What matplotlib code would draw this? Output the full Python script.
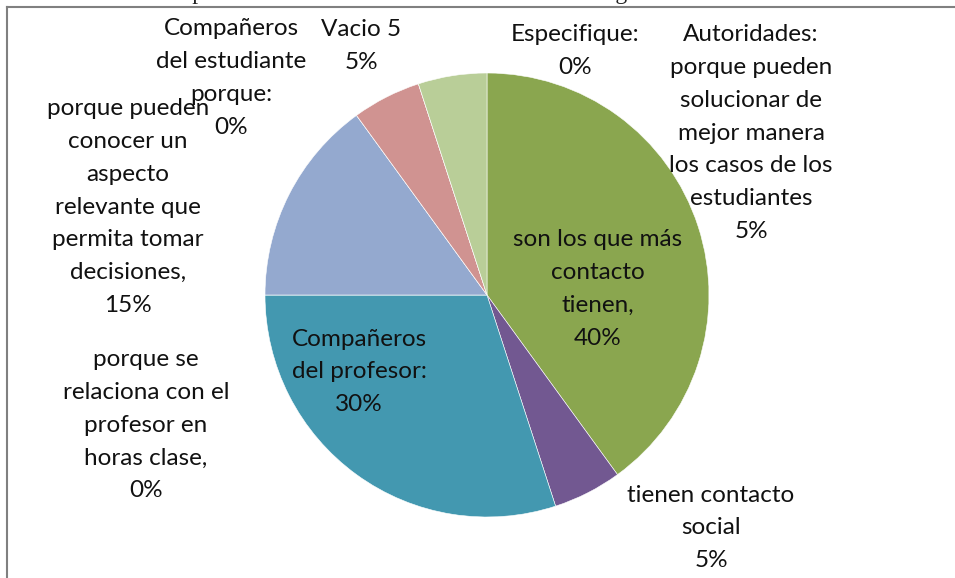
import matplotlib
matplotlib.use("Agg")
import matplotlib.pyplot as plt
from matplotlib.lines import Line2D

plt.rcParams['font.family'] = ['Lato', 'DejaVu Sans']

# Slice order, clockwise from 12 o'clock
categories = [
    "son los que más\ncontacto\ntienen,",
    "tienen contacto\nsocial",
    "Compañeros\ndel profesor:",
    "porque se\nrelaciona con el\nprofesor en\nhoras clase,",
    "porque pueden\nconocer un\naspecto\nrelevante que\npermita tomar\ndecisiones,",
    "Compañeros\ndel estudiante\nporque:",
    "Vacio 5",
    "Especifique:",
    "Autoridades:\nporque pueden\nsolucionar de\nmejor manera\nlos casos de los\nestudiantes",
]
percent = [40, 5, 30, 0, 15, 0, 5, 0, 5]
colors = ['#8AA64F', '#725891', '#4398B0', '#4F81BD', '#94A9CF',
          '#C0504D', '#D09391', '#F79646', '#B9CE98']

# label anchor (pixel x, pixel y from top)
label_xy = [(598, 289), (711, 528), (359, 372), (146, 425), (128, 207),
            (231, 78), (361, 46), (575, 51), (751, 133)]

W, H = 955, 578
fig = plt.figure(figsize=(W / 100, H / 100), dpi=100)
ax = fig.add_axes([0, 0, 1, 1])

ax.pie(percent, colors=colors, startangle=90, counterclock=False,
       center=(487, H - 295), radius=222,
       wedgeprops=dict(edgecolor='white', linewidth=0.4))
ax.set_xlim(0, W)
ax.set_ylim(0, H)
ax.set_aspect('auto')
ax.axis('off')

for name, p, (x, y) in zip(categories, percent, label_xy):
    ax.text(x, H - y, f"{name}\n{p}%", ha='center', va='center',
            fontsize=17.5, linespacing=1.7, color='#111111')

# chart frame (only top and left edges fall inside the image)
fig.add_artist(Line2D([7 / W, 1], [1 - 7 / H, 1 - 7 / H], color='#808080', lw=1.5))
fig.add_artist(Line2D([7 / W, 7 / W], [0, 1 - 7 / H], color='#808080', lw=1.5))

# caption above the chart, mostly cut off by the top edge
fig.text(0.0, 1 + 0.5 / H,
         "Gráfico 14: Actores para la información del estudiante en el Colegio Las Américas",
         family='Liberation Serif', fontsize=17, va='baseline', ha='left', color='#222222')

fig.savefig("out.png", dpi=100, facecolor='white')
